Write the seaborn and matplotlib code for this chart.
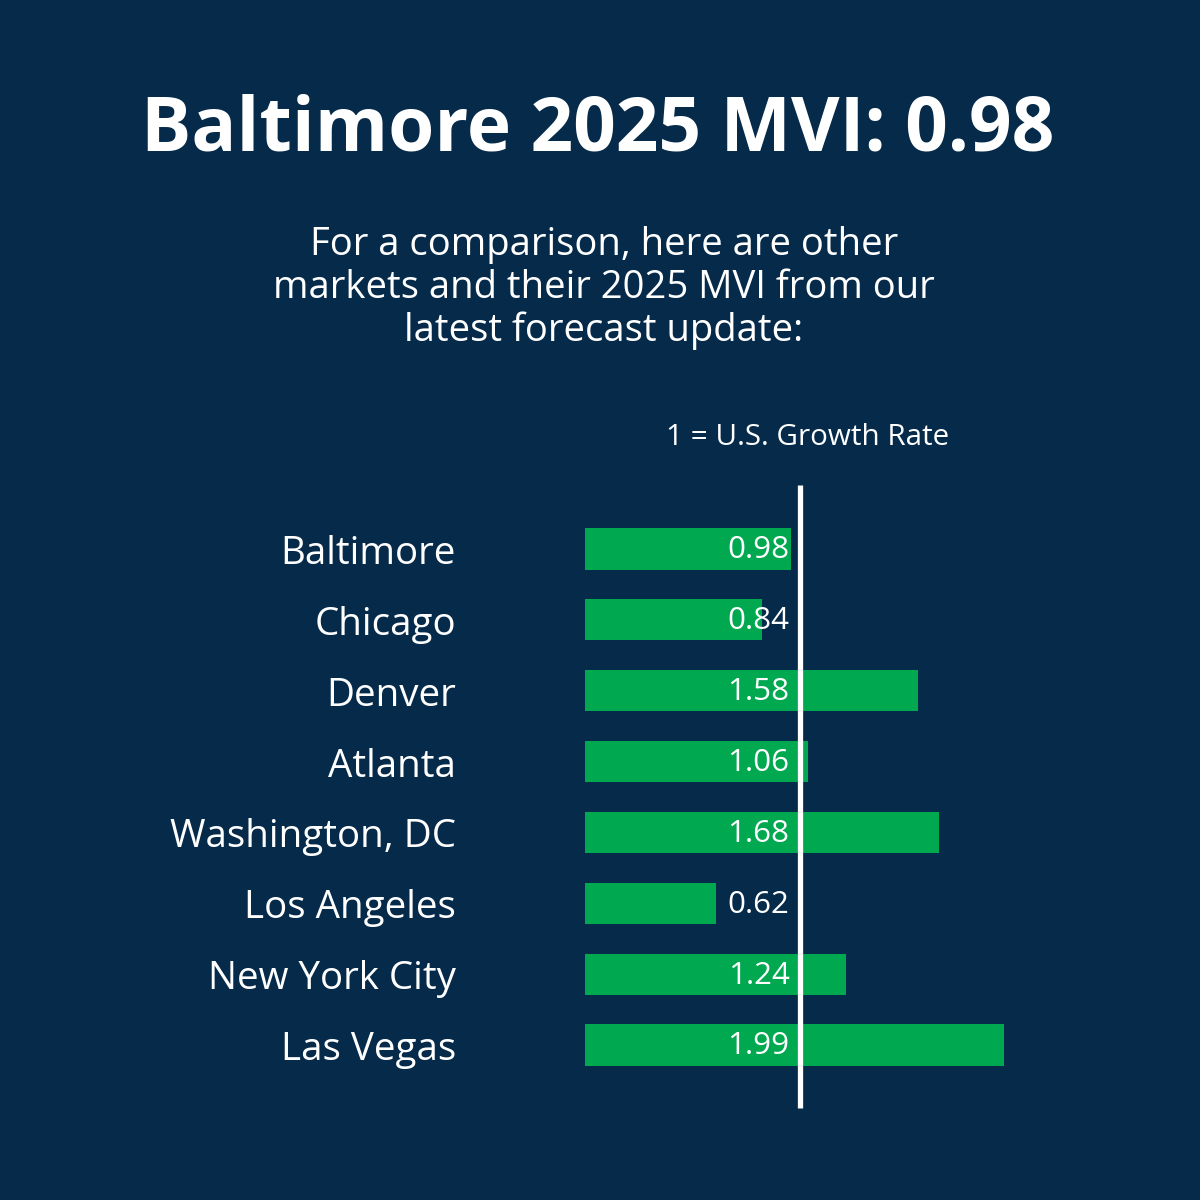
import matplotlib
matplotlib.use("Agg")
import matplotlib.pyplot as plt
import seaborn as sns
import pandas as pd

cities = ["Baltimore", "Chicago", "Denver", "Atlanta", "Washington, DC",
          "Los Angeles", "New York City", "Las Vegas"]
mvi = [0.98, 0.84, 1.58, 1.06, 1.68, 0.62, 1.24, 1.99]
value_labels = ["0.98", "0.84", "1.58", "1.06", "1.68", "0.62", "1.24", "1.99"]
title = "Baltimore 2025 MVI: 0.98"
subtitle = "For a comparison, here are other\nmarkets and their 2025 MVI from our\nlatest forecast update:"
ref_label = "1 = U.S. Growth Rate"
us_rate = 1.0

BG = "#052a4a"
GREEN = "#00a84f"
W, H = 1200, 1200

sns.set_theme(style="white")
plt.rcParams["font.family"] = ["Open Sans", "DejaVu Sans"]

fig = plt.figure(figsize=(12, 12), dpi=100)
fig.patch.set_facecolor(BG)

# axes geometry in pixels
px_per_unit = 210.5
ax_left, ax_right = 585, 1150
step = 70.86
y0 = 549
ylim_top, ylim_bot = -0.95, 7.95
ax_top = y0 + ylim_top * step
ax_bot = y0 + ylim_bot * step
ax = fig.add_axes([ax_left / W, 1 - ax_bot / H, (ax_right - ax_left) / W, (ax_bot - ax_top) / H])
ax.set_facecolor(BG)

df = pd.DataFrame({"city": cities, "mvi": mvi})
sns.barplot(data=df, x="mvi", y="city", orient="h", color=GREEN, saturation=1,
            width=0.58, ax=ax, order=cities, linewidth=0, edgecolor=GREEN)
ax.set_xlim(0, (ax_right - ax_left) / px_per_unit)
ax.set_ylim(ylim_bot, ylim_top)
for s in ax.spines.values():
    s.set_visible(False)
ax.set_xticks([])
ax.set_yticks([])
ax.set_xlabel("")
ax.set_ylabel("")

# reference line
ax.vlines(us_rate + 0.02, -0.9, 7.89, color="white", linewidth=3.8, zorder=5)

# value labels (fixed position near the reference line)
for i, lab in enumerate(value_labels):
    ax.text(0.972, i + 0.02, lab, ha="right", va="center", color="white",
            fontsize=22.6, zorder=6)

# category labels
for i, c in enumerate(cities):
    fig.text(456 / W, 1 - (y0 + i * step + 5) / H, c, ha="right", va="center",
             color="white", fontsize=27.7)

fig.text(598 / W, 1 - 131 / H, title, ha="center", va="center", color="white",
         fontsize=53.8, fontweight="bold")
fig.text(604 / W, 1 - 288 / H, subtitle, ha="center", va="center", color="white",
         fontsize=27.5, linespacing=1.16)
fig.text(808 / W, 1 - 437 / H, ref_label, ha="center", va="center", color="white",
         fontsize=21.3)

fig.savefig("out.png", dpi=100, facecolor=BG)
